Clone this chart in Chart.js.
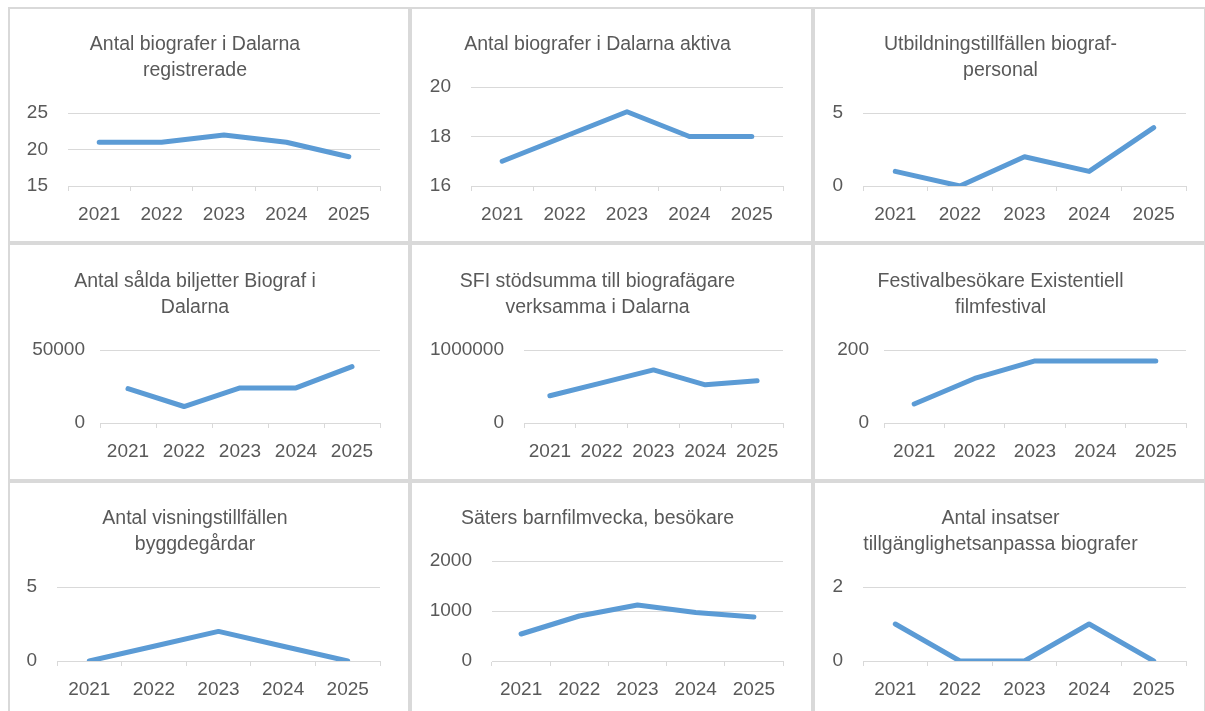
<!DOCTYPE html>
<html lang="sv">
<head>
<meta charset="utf-8">
<title>Biografer i Dalarna</title>
<script src="https://cdn.jsdelivr.net/npm/chart.js@4.4.1/dist/chart.umd.min.js"></script>
<style>
  body { margin: 0; background: #fff; width: 1205px; height: 711px; overflow: hidden; position: relative; }
  .panel { position: absolute; border: 2px solid #d9d9d9; background: #fff; }
  .panel canvas { display: block; }
</style>
</head>
<body>
<script>
// ---- data ----
const years = ["2021", "2022", "2023", "2024", "2025"];

const titles = [
  ["Antal biografer i Dalarna", "registrerade"],
  ["Antal biografer i Dalarna aktiva"],
  ["Utbildningstillfällen biograf-", "personal"],
  ["Antal sålda biljetter Biograf i", "Dalarna"],
  ["SFI stödsumma till biografägare", "verksamma i Dalarna"],
  ["Festivalbesökare Existentiell", "filmfestival"],
  ["Antal visningstillfällen", "byggdegårdar"],
  ["Säters barnfilmvecka, besökare"],
  ["Antal insatser", "tillgänglighetsanpassa biografer"]
];

const biografRegistrerade = [21, 21, 22, 21, 19];
const biografAktiva = [17, 18, 19, 18, 18];
const utbildningstillfallen = [1, 0, 2, 1, 4];
const saldaBiljetter = [23500, 11300, 24000, 24000, 38600];
const sfiStodsumma = [373000, 550000, 727000, 523000, 580000];
const festivalBesokare = [52, 122, 170, 170, 170];
const visningstillfallen = [0, 1, 2, 1, 0];
const saterBarnfilmvecka = [540, 900, 1120, 970, 880];
const insatserTillganglighet = [1, 0, 0, 1, 0];

const series = [
  biografRegistrerade, biografAktiva, utbildningstillfallen,
  saldaBiljetter, sfiStodsumma, festivalBesokare,
  visningstillfallen, saterBarnfilmvecka, insatserTillganglighet
];

// y-axelns tickvärden per diagram
const yTicks = [
  [15, 20, 25],
  [16, 18, 20],
  [0, 5],
  [0, 50000],
  [0, 1000000],
  [0, 200],
  [0, 5],
  [0, 1000, 2000],
  [0, 2]
];

// ---- layout ----
const kolumnX = [8, 410, 813];
const kolumnB = [402, 403, 393];
const radY = [7, 243, 481];
const radH = [236, 238, 240];
const plotHoger = [28, 28, 18];
const plotBotten = [177, 178, 178];
const radTopp = [0, 1, 0];
const yBredd = [58, 59, 48, 90, 112, 69, 47, 80, 48];
const yLuft = [20, 20, 20, 15, 20, 15, 20, 20, 20];

const typsnitt = "'Liberation Sans', Arial, sans-serif";
const gra = "#595959";
const linjer = "#d9d9d9";

Chart.defaults.font.family = typsnitt;

function ritaDiagram(i) {
  const kol = i % 3;
  const rad = Math.floor(i / 3);

  const w = kolumnB[kol] - 4;
  const h = radH[rad] - 4;

  const panel = document.createElement("div");
  panel.className = "panel";
  panel.style.left = kolumnX[kol] + "px";
  panel.style.top = radY[rad] + "px";
  panel.style.width = w + "px";
  panel.style.height = h + "px";

  const canvas = document.createElement("canvas");
  canvas.width = w;
  canvas.height = h;
  canvas.style.width = w + "px";
  canvas.style.height = h + "px";
  panel.appendChild(canvas);
  document.body.appendChild(panel);

  const t = yTicks[i];

  new Chart(canvas.getContext("2d"), {
    type: "line",
    data: {
      labels: years,
      datasets: [
        {
          data: series[i],
          borderColor: "#5b9bd5",
          borderWidth: 5,
          borderCapStyle: "round",
          borderJoinStyle: "round",
          pointRadius: 0,
          tension: 0,
          fill: false,
        },
      ],
    },
    options: {
      responsive: false,
      animation: false,
      layout: { padding: { top: radTopp[rad], right: plotHoger[kol], bottom: 0, left: 0 } },
      plugins: {
        legend: { display: false },
        tooltip: { enabled: false },
        title: {
          display: true,
          text: titles[i],
          color: gra,
          font: { size: 19.5, weight: "normal", lineHeight: 26 / 19.5 },
          padding: { top: 23, bottom: 29 },
        },
      },
      scales: {
        x: {
          offset: true,
          grid: { offset: true, drawOnChartArea: false, drawTicks: true, tickLength: 5, color: linjer },
          border: { display: true, color: linjer },
          ticks: { color: gra, font: { size: 19 }, padding: 12, maxRotation: 0, autoSkip: false },
          afterFit: (s) => { s.height = h - plotBotten[rad]; },
        },
        y: {
          min: t[0],
          max: t[t.length - 1],
          ticks: {
            stepSize: t[1] - t[0],
            color: gra,
            font: { size: 19 },
            padding: yLuft[i],
            callback: (v) => String(v),
          },
          grid: { color: linjer, drawTicks: false },
          border: { display: false },
          afterFit: (s) => { s.width = yBredd[i]; },
        },
      },
    },
  });
}

for (let i = 0; i < series.length; i++) ritaDiagram(i);
</script>
</body>
</html>
